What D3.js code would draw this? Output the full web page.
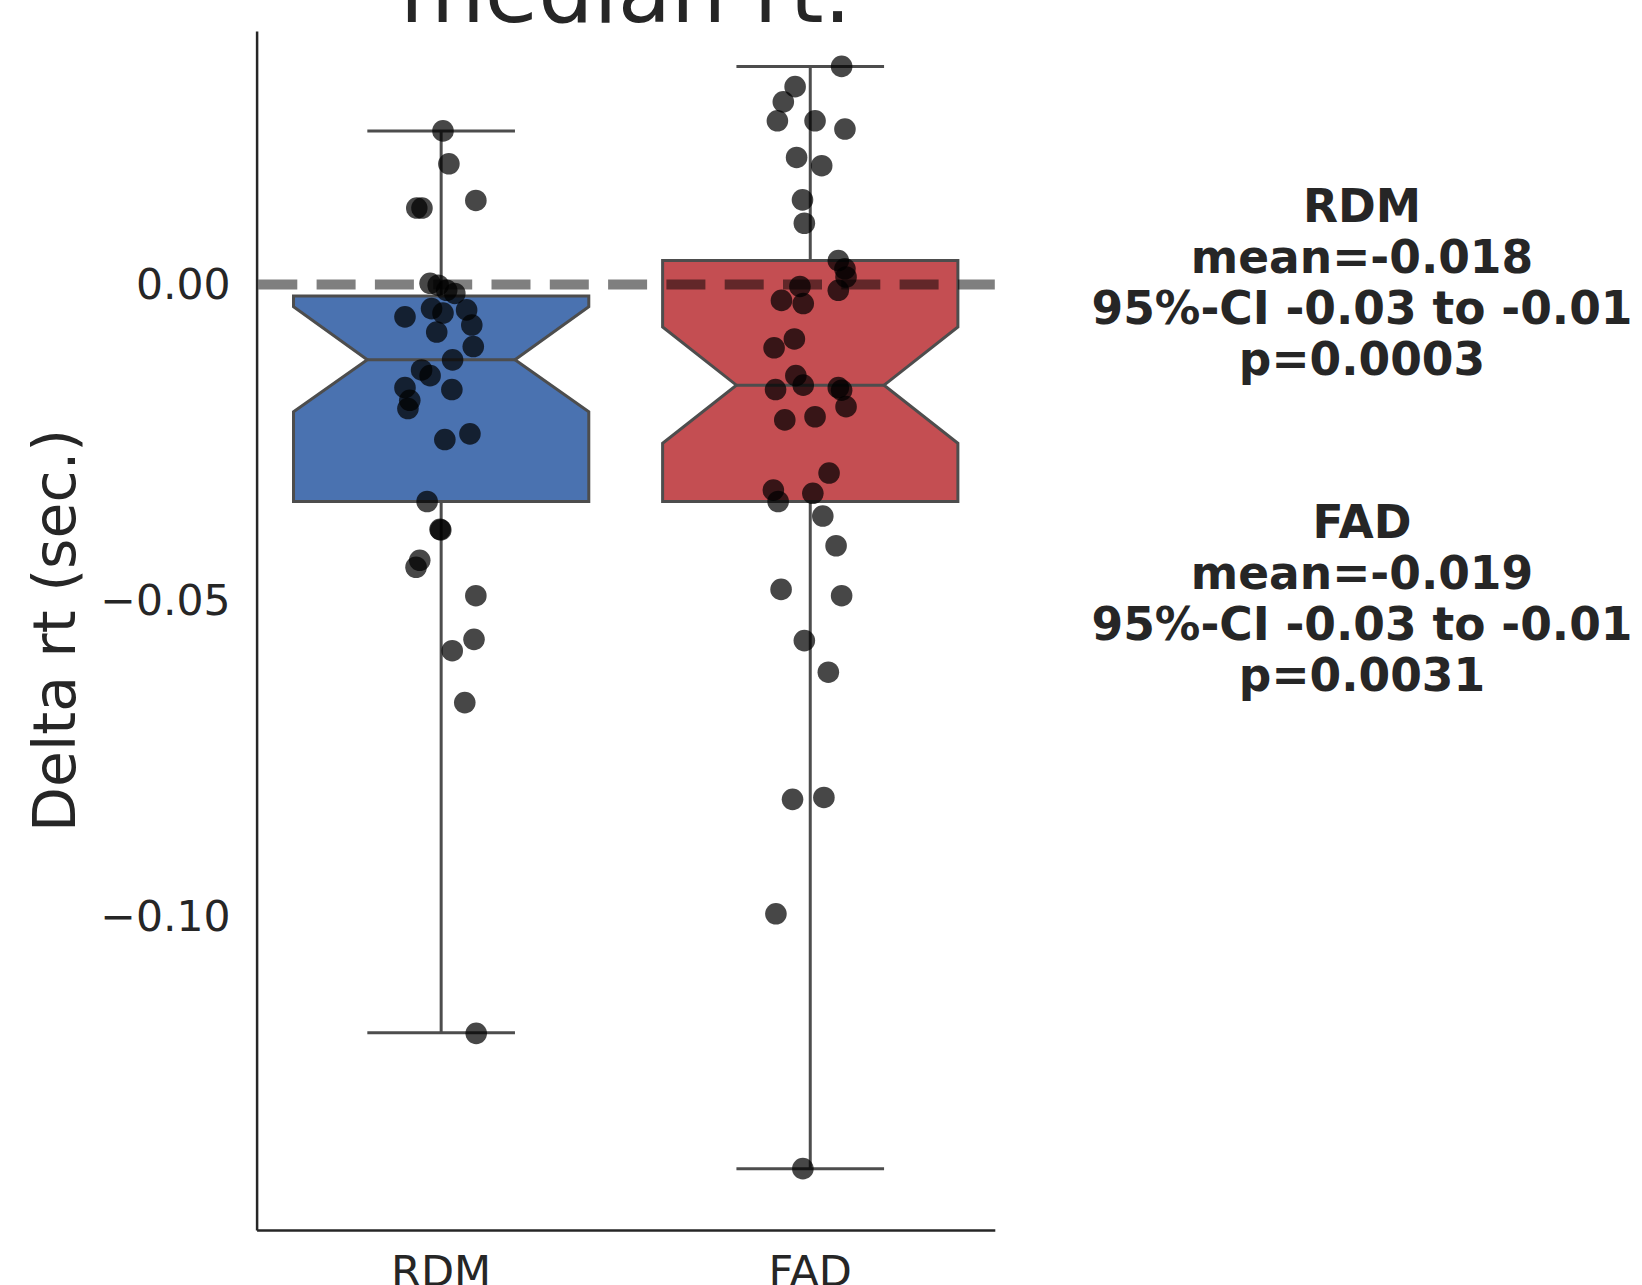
<!DOCTYPE html>
<html>
<head>
<meta charset="utf-8">
<script src="https://cdn.jsdelivr.net/npm/d3@7"></script>
<style>
  html, body { margin: 0; padding: 0; background: #ffffff; }
  svg { display: block; }
  text { font-family: "DejaVu Sans", sans-serif; }
</style>
</head>
<body>
<svg id="chart" width="1642" height="1285"></svg>
<script>
// ---------------- data ----------------
const categories = ["RDM", "FAD"];
const boxColors = ["#4A72B0", "#C44E52"];

// box statistics (per category)
const boxQ3        = [-0.0018,  0.0038];
const notchHigh    = [-0.0035, -0.0067];
const boxMedian    = [-0.0119, -0.0159];
const notchLow     = [-0.0201, -0.0251];
const boxQ1        = [-0.0343, -0.0343];
const whiskerHigh  = [ 0.0243,  0.0345];
const whiskerLow   = [-0.1183, -0.1398];

// individual points: value and strip jitter (in category-band units)
const rdmValues = [0.0243, 0.0191, 0.0121, 0.0121, 0.0133, 0.0002, -0.0001, -0.0009, -0.0014,
  -0.0051, -0.0038, -0.0045, -0.0040, -0.0075, -0.0064, -0.0098, -0.0119, -0.0135, -0.0144,
  -0.0163, -0.0183, -0.0196, -0.0166, -0.0245, -0.0236, -0.0343, -0.0387, -0.0388, -0.0436, -0.0447,
  -0.0492, -0.0561, -0.0579, -0.0661, -0.1184];
const rdmJitter = [0.005, 0.021, -0.066, -0.052, 0.094, -0.030, -0.008, 0.015, 0.037,
  -0.098, -0.026, 0.005, 0.069, -0.012, 0.083, 0.087, 0.031, -0.053, -0.030,
  -0.098, -0.085, -0.090, 0.029, 0.010, 0.078, -0.038, -0.003, -0.001, -0.058, -0.068,
  0.094, 0.089, 0.030, 0.064, 0.095];

const fadValues = [0.0345, 0.0313, 0.0289, 0.0259, 0.0259, 0.0246, 0.0201, 0.0188, 0.0134, 0.0097,
  0.0038, 0.0025, 0.0012, -0.0009, -0.0003, -0.0025, -0.0030, -0.0086, -0.0100, -0.0144,
  -0.0159, -0.0166, -0.0163, -0.0167, -0.0193, -0.0214, -0.0209, -0.0298, -0.0325, -0.0343,
  -0.0330, -0.0366, -0.0413, -0.0482, -0.0492, -0.0563, -0.0613, -0.0814, -0.0811, -0.0995, -0.1398];
const fadJitter = [0.085, -0.041, -0.073, -0.089, 0.013, 0.094, -0.037, 0.031, -0.021, -0.016,
  0.076, 0.094, 0.097, 0.076, -0.028, -0.078, -0.019, -0.043, -0.098, -0.039,
  -0.019, -0.094, 0.076, 0.085, 0.097, -0.069, 0.013, 0.051, -0.100, -0.087,
  0.007, 0.034, 0.070, -0.079, 0.085, -0.016, 0.049, -0.048, 0.037, -0.093, -0.020];

const yTickValues = [0, -0.05, -0.10];
const titleText = "median rt.";
const yLabelText = "Delta rt (sec.)";
const statLines = [
  ["RDM", "mean=-0.018", "95%-CI -0.03 to -0.01", "p=0.0003"],
  ["FAD", "mean=-0.019", "95%-CI -0.03 to -0.01", "p=0.0031"]
];

// ---------------- layout ----------------
const svg = d3.select("#chart");
const plotLeft = 256.6, plotRight = 994.8, plotTop = 31, plotBottom = 1230;
const textColor = "#262626";
const lineColor = "#4d4d4d";

svg.append("rect").attr("width", 1642).attr("height", 1285).attr("fill", "#fff");

const x = d3.scaleBand().domain(categories).range([plotLeft, plotRight]).padding(0);
const y = d3.scaleLinear().domain([-0.1495, 0.0401]).range([plotBottom, plotTop]);
const bw = x.bandwidth();
const boxW = bw * 0.8;
const notchW = boxW * 0.25;
const capW = boxW * 0.25;

// boxes
const boxes = categories.map((c, i) => ({
  c, i, cx: x(c) + bw / 2,
  q1: boxQ1[i], q3: boxQ3[i], med: boxMedian[i],
  nl: notchLow[i], nh: notchHigh[i], wl: whiskerLow[i], wh: whiskerHigh[i]
}));

const g = svg.append("g");

// whiskers
boxes.forEach(b => {
  g.append("line").attr("x1", b.cx).attr("x2", b.cx).attr("y1", y(b.q3)).attr("y2", y(b.wh))
    .attr("stroke", lineColor).attr("stroke-width", 3);
  g.append("line").attr("x1", b.cx).attr("x2", b.cx).attr("y1", y(b.q1)).attr("y2", y(b.wl))
    .attr("stroke", lineColor).attr("stroke-width", 3);
  [b.wh, b.wl].forEach(v => {
    g.append("line").attr("x1", b.cx - capW).attr("x2", b.cx + capW).attr("y1", y(v)).attr("y2", y(v))
      .attr("stroke", lineColor).attr("stroke-width", 3);
  });
});

// notched boxes
g.selectAll("path.box").data(boxes).join("path")
  .attr("class", "box")
  .attr("d", b => {
    const l = b.cx - boxW / 2, r = b.cx + boxW / 2;
    const pts = [
      [l, y(b.q3)], [r, y(b.q3)], [r, y(b.nh)], [b.cx + notchW, y(b.med)], [r, y(b.nl)],
      [r, y(b.q1)], [l, y(b.q1)], [l, y(b.nl)], [b.cx - notchW, y(b.med)], [l, y(b.nh)]
    ];
    return d3.line()(pts) + "Z";
  })
  .attr("fill", (b) => boxColors[b.i])
  .attr("stroke", lineColor).attr("stroke-width", 3).attr("stroke-linejoin", "miter");

// medians
g.selectAll("line.med").data(boxes).join("line")
  .attr("class", "med")
  .attr("x1", b => b.cx - notchW).attr("x2", b => b.cx + notchW)
  .attr("y1", b => y(b.med)).attr("y2", b => y(b.med))
  .attr("stroke", lineColor).attr("stroke-width", 3);

// zero reference line
svg.append("line")
  .attr("x1", plotLeft).attr("x2", plotRight).attr("y1", y(0)).attr("y2", y(0))
  .attr("stroke", "#000").attr("stroke-opacity", 0.5).attr("stroke-width", 10)
  .attr("stroke-dasharray", "39,19.3").attr("stroke-dashoffset", -1.7);

// points
const points = [];
rdmValues.forEach((v, k) => points.push({ c: "RDM", v, j: rdmJitter[k] }));
fadValues.forEach((v, k) => points.push({ c: "FAD", v, j: fadJitter[k] }));
svg.append("g").selectAll("circle").data(points).join("circle")
  .attr("cx", d => x(d.c) + bw / 2 + d.j * bw)
  .attr("cy", d => y(d.v))
  .attr("r", 10.8)
  .attr("fill", "#000").attr("fill-opacity", 0.72);

// axes
const fmt = v => (v < 0 ? "\u2212" : "") + Math.abs(v).toFixed(2);
const yAxis = svg.append("g").attr("transform", `translate(${plotLeft},0)`)
  .call(d3.axisLeft(y).tickValues(yTickValues).tickFormat(fmt).tickSize(0).tickSizeOuter(0).tickPadding(26));
yAxis.select(".domain").attr("stroke", textColor).attr("stroke-width", 2.5);
yAxis.selectAll("text").attr("font-size", 42.5).attr("fill", textColor)
  .attr("font-family", "DejaVu Sans");

const xAxis = svg.append("g").attr("transform", `translate(0,${plotBottom})`)
  .call(d3.axisBottom(x).tickSize(0).tickSizeOuter(0).tickPadding(25));
xAxis.select(".domain").attr("stroke", textColor).attr("stroke-width", 2.5);
xAxis.selectAll("text").attr("font-size", 43).attr("fill", textColor)
  .attr("font-family", "DejaVu Sans");

// y label
svg.append("text")
  .attr("transform", `translate(75,${(plotTop + plotBottom) / 2}) rotate(-90)`)
  .attr("text-anchor", "middle")
  .attr("font-size", 58.5).attr("fill", textColor)
  .text(yLabelText);

// title
svg.append("text")
  .attr("x", (plotLeft + plotRight) / 2).attr("y", 21.7)
  .attr("text-anchor", "middle")
  .attr("font-size", 87).attr("fill", textColor)
  .text(titleText);

// stats annotations
const blockBaselines = [221.5, 537.5];
const lineH = 51.2;
statLines.forEach((lines, bi) => {
  const t = svg.append("text")
    .attr("text-anchor", "middle")
    .attr("font-size", 45.5).attr("font-weight", "bold").attr("fill", textColor);
  lines.forEach((s, li) => {
    t.append("tspan").attr("x", 1362).attr("y", blockBaselines[bi] + li * lineH).text(s);
  });
});
</script>
</body>
</html>
